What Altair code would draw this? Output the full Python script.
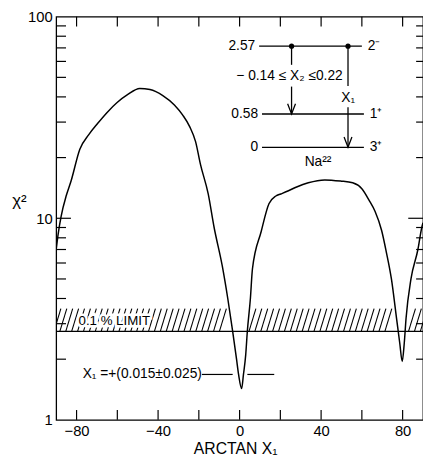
import altair as alt
import pandas as pd

# ---------------- data ----------------
arctan_x1 = [-90, -89, -87.6, -85, -82.7, -78.4, -74, -69.7, -65, -60.1,
             -55, -49, -44, -37.5, -32, -27.9, -24.5, -21.6, -19.2, -15.4,
             -12.5, -8.5, -5.8, -3.4, -1.5, -0.5, 1.0, 1.9, 3.0, 3.8,
             5.3, 6.3, 10.6, 14.4, 17.8, 20.2, 24, 28, 33.7, 41.8,
             49.5, 55.5, 60, 63.5, 66.5, 69.7, 72, 74.5, 77, 78.6,
             79.8, 80.8, 81.7, 84.1, 87.5, 89.4, 90]
chi2 = [7.0, 8.4, 10.2, 13.0, 15.3, 22, 26, 29.5, 33.5, 37.5,
        41, 44, 43.5, 40.5, 36.5, 32.5, 28.5, 24, 18.5, 13.2,
        9.0, 5.8, 4.0, 2.75, 2.0, 1.68, 1.43, 1.68, 2.1, 2.75,
        4.0, 5.6, 8.6, 11.8, 12.9, 13.2, 13.7, 14.3, 15.0, 15.5,
        15.3, 15.0, 14.0, 12.3, 10.8, 8.7, 6.8, 5.0, 3.2, 2.4,
        1.95, 2.4, 3.2, 5.0, 7.0, 9.0, 9.5]

x_tick_labels = [-80, -40, 0, 40, 80]
x_ticks_all = [-80, -60, -40, -20, 0, 20, 40, 60, 80]
y_tick_labels = [1, 10, 100]
y_minor = [2, 3, 4, 5, 6, 7, 8, 9, 20, 30, 40, 50, 60, 70, 80, 90]
y_major_inner = [10]

limit_low = 2.75     # 0.1 % limit band
limit_high = 3.56
limit_text = "0.1 % LIMIT"
x1_text = "X\u2081 =+(0.015\u00b10.025)"

level_energy = ["2.57", "0.58", "0"]
level_spin = ["2\u207b", "1\u207a", "3\u207a"]
mixing_text = "\u2212 0.14 \u2264 X\u2082 \u22640.22"
x1_label = "X\u2081"
nucleus = "Na\u00b2\u00b2"

# ---------------- layout (annotation anchors, in chart units) ----------------
W, H = 373, 410
XMIN, XMAX = -90, 90
PXX = W / (XMAX - XMIN)
PXD = H / 2.0
def xlen(px):
    return px / PXX
def yfac(px):
    return 10 ** (px / PXD)

level_at = [71.4, 32.9, 22.5]
level_x0 = [9.6, 11.0, 11.0]
level_x1 = [60.0, 61.0, 61.0]
arrow_x = [25.5, 53.2]
arrow_from = [71.4, 71.4]
arrow_to = [32.9, 22.5]
arrow_gap = [(57.7, 45.0), (45.3, 35.5)]

xs = alt.Scale(domain=[XMIN, XMAX], nice=False, zero=False)
ys = alt.Scale(type="log", domain=[1, 100], nice=False)
FONT = "Liberation Sans"
BLACK = "black"

x_axis = alt.Axis(
    values=x_tick_labels, tickSize=0, domain=False, grid=False,
    labelPadding=4, labelFontSize=15, labelFlush=False, labelFont=FONT,
    labelColor=BLACK, title="ARCTAN X\u2081", titleFont=FONT,
    titleFontSize=16, titleFontWeight="normal", titleColor=BLACK,
    titleX=182, titleY=29, titleBaseline="middle")
y_axis = alt.Axis(
    values=y_tick_labels, format="d", tickSize=0, domain=False, grid=False,
    labelPadding=4, labelFontSize=15, labelFlush=False, labelFont=FONT,
    labelColor=BLACK, title="\u03c7\u00b2", titleFont=FONT,
    titleFontSize=17, titleFontWeight="normal", titleColor=BLACK,
    titleAngle=0, titleX=-38, titleY=187, titleAlign="center",
    titleBaseline="middle")

def X(f="x"):
    return alt.X(f"{f}:Q", scale=xs, axis=x_axis, title="ARCTAN X\u2081")
def Y(f="y"):
    return alt.Y(f"{f}:Q", scale=ys, axis=y_axis, title="\u03c7\u00b2")

# curve
curve_df = pd.DataFrame({"x": arctan_x1, "y": chi2})
curve = alt.Chart(curve_df).mark_line(
    color=BLACK, strokeWidth=1.5, interpolate="monotone", clip=True
).encode(x=X(), y=Y())

# inward ticks
left_df = pd.DataFrame({
    "y": y_minor + y_major_inner,
    "x": [XMIN] * (len(y_minor) + len(y_major_inner)),
    "x2": [XMIN + xlen(10)] * len(y_minor) + [XMIN + xlen(15)] * len(y_major_inner),
})
right_df = pd.DataFrame({
    "y": y_minor + y_major_inner,
    "x": [XMAX] * (len(y_minor) + len(y_major_inner)),
    "x2": [XMAX - xlen(7)] * len(y_minor) + [XMAX - xlen(15)] * len(y_major_inner),
})
top_df = pd.DataFrame({"x": x_ticks_all, "y": [100] * len(x_ticks_all),
                       "y2": [100 / yfac(10)] * len(x_ticks_all)})
bot_df = pd.DataFrame({"x": x_ticks_all, "y": [1] * len(x_ticks_all),
                       "y2": [yfac(10)] * len(x_ticks_all)})
tick_mark = dict(color=BLACK, strokeWidth=1.2)
left_t = alt.Chart(left_df).mark_rule(**tick_mark).encode(x=X(), x2="x2:Q", y=Y())
right_t = alt.Chart(right_df).mark_rule(**tick_mark).encode(x=X(), x2="x2:Q", y=Y())
top_t = alt.Chart(top_df).mark_rule(**tick_mark).encode(x=X(), y=Y(), y2="y2:Q")
bot_t = alt.Chart(bot_df).mark_rule(**tick_mark).encode(x=X(), y=Y(), y2="y2:Q")

# hatched limit band
step, slant = 2.9, 3.4
h, starts = -94.0, []
while h < XMAX + 1:
    starts.append(round(h, 2))
    h += step
gaps = [(-4.8, 3.8), (76.6, 82.6)]
starts = [s for s in starts
          if all(s + slant <= g0 or s >= g1 for g0, g1 in gaps)]
hatch_df = pd.DataFrame({"x": starts, "x2": [s + slant for s in starts],
                         "y": [limit_low] * len(starts),
                         "y2": [limit_high] * len(starts)})
hatch = alt.Chart(hatch_df).mark_rule(color=BLACK, strokeWidth=1.1, clip=True).encode(
    x=X(), x2="x2:Q", y=Y(), y2="y2:Q")
base_df = pd.DataFrame({"x": [XMIN], "x2": [XMAX], "y": [limit_low]})
base_line = alt.Chart(base_df).mark_rule(color=BLACK, strokeWidth=1.3).encode(
    x=X(), x2="x2:Q", y=Y())

lim_df = pd.DataFrame({"x": [-61.5], "y": [3.1], "t": [limit_text]})
lim_halo = alt.Chart(lim_df).mark_text(
    font=FONT, fontSize=13.5, color="white", stroke="white", strokeWidth=5,
    align="center", baseline="middle").encode(x=X(), y=Y(), text="t:N")
lim_txt = alt.Chart(lim_df).mark_text(
    font=FONT, fontSize=13.5, color=BLACK, align="center",
    baseline="middle").encode(x=X(), y=Y(), text="t:N")

# X1 result annotation
x1_df = pd.DataFrame({"x": [-77.0], "y": [1.68], "t": [x1_text]})
x1_txt = alt.Chart(x1_df).mark_text(
    font=FONT, fontSize=14, color=BLACK, align="left",
    baseline="middle").encode(x=X(), y=Y(), text="t:N")
x1_seg_df = pd.DataFrame({"x": [-18.5, 3.8], "x2": [-3.4, 17.0], "y": [1.68, 1.68]})
x1_seg = alt.Chart(x1_seg_df).mark_rule(color=BLACK, strokeWidth=1.2).encode(
    x=X(), x2="x2:Q", y=Y())

# level scheme inset
lev_df = pd.DataFrame({"x": level_x0, "x2": level_x1, "y": level_at,
                       "e": level_energy, "s": level_spin})
lev_lines = alt.Chart(lev_df).mark_rule(color=BLACK, strokeWidth=1.3).encode(
    x=X(), x2="x2:Q", y=Y())
lev_e = alt.Chart(lev_df).mark_text(
    font=FONT, fontSize=14, color=BLACK, align="right", baseline="middle",
    dx=-4).encode(x=X(), y=Y(), text="e:N")
lev_s = alt.Chart(lev_df).mark_text(
    font=FONT, fontSize=14, color=BLACK, align="left", baseline="middle",
    dx=6).encode(x=X("x2"), y=Y(), text="s:N")

seg_rows = []
for ax, a0, a1, (g0, g1) in zip(arrow_x, arrow_from, arrow_to, arrow_gap):
    seg_rows.append({"x": ax, "y": a0, "y2": g0})
    seg_rows.append({"x": ax, "y": g1, "y2": a1})
arr_df = pd.DataFrame(seg_rows)
arr_lines = alt.Chart(arr_df).mark_rule(color=BLACK, strokeWidth=1.3).encode(
    x=X(), y=Y(), y2="y2:Q")
dots_df = pd.DataFrame({"x": arrow_x, "y": arrow_from})
dots = alt.Chart(dots_df).mark_point(
    filled=True, shape="circle", size=28, color=BLACK, opacity=1).encode(x=X(), y=Y())
heads_df = pd.DataFrame({"x": arrow_x, "y": arrow_to})
heads = alt.Chart(heads_df).mark_point(
    shape="M-1,-2.6L0,0L1,-2.6", filled=False, size=64, color=BLACK,
    strokeWidth=1.3, opacity=1).encode(x=X(), y=Y())

inset_txt_df = pd.DataFrame({
    "x": [24.5, 53.3, 38.5],
    "y": [51.0, 39.5, 18.9],
    "t": [mixing_text, x1_label, nucleus],
})
inset_txt = alt.Chart(inset_txt_df).mark_text(
    font=FONT, fontSize=14, color=BLACK, align="center",
    baseline="middle").encode(x=X(), y=Y(), text="t:N")

chart = alt.layer(
    curve, left_t, right_t, top_t, bot_t, hatch, base_line, lim_halo, lim_txt,
    x1_txt, x1_seg, lev_lines, lev_e, lev_s, arr_lines, dots, heads, inset_txt,
).properties(
    width=W, height=H,
    autosize=alt.AutoSizeParams(type="none"),
    padding={"left": 49, "top": 5, "right": 0, "bottom": 38},
    background="white",
).configure_view(stroke=BLACK, strokeWidth=1.3)

chart.save("out.html", embed_options={"renderer": "svg", "actions": False})
